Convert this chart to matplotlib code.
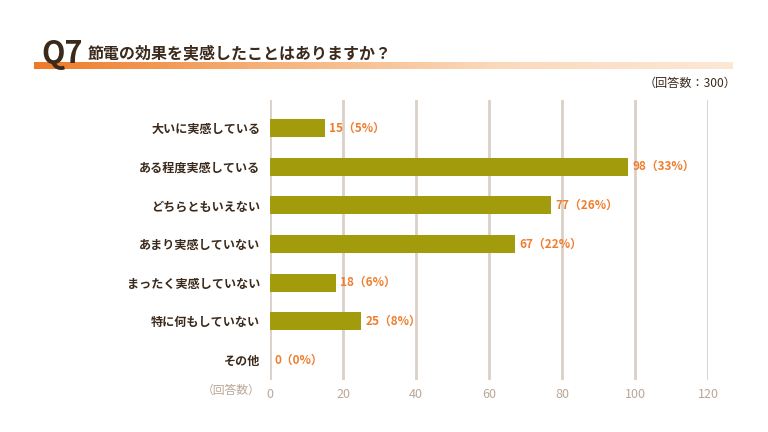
import matplotlib.pyplot as plt
import numpy as np
from matplotlib.colors import LinearSegmentedColormap

plt.rcParams['font.family'] = ['Noto Sans CJK JP', 'DejaVu Sans']

categories = ["大いに実感している", "ある程度実感している", "どちらともいえない",
              "あまり実感していない", "まったく実感していない", "特に何もしていない", "その他"]
counts = [15, 98, 77, 67, 18, 25, 0]
percents = [5, 33, 26, 22, 6, 8, 0]
xticks = [0, 20, 40, 60, 80, 100, 120]

bar_c = "#a29c0c"
val_c = "#ef7f2e"
dark = "#3b2a1c"
tick_c = "#b9a797"
grid_c = "#d9d0c7"

fig = plt.figure(figsize=(7.68, 4.32), dpi=100)

# header gradient band
band = fig.add_axes([34/768, 1-69/432, (733-34)/768, 7/432])
cmap = LinearSegmentedColormap.from_list("g", ["#ee7a28", "#f6b27a", "#fbd9bb", "#fde8d6"])
band.imshow(np.linspace(0, 1, 256).reshape(1, -1), aspect="auto", cmap=cmap)
band.axis("off")

fig.text(41/768, 1-63/432, "Q7", fontsize=22, color=dark, fontweight="bold",
         ha="left", va="baseline", zorder=5)
fig.text(88/768, 1-58/432, "節電の効果を実感したことはありますか？", fontsize=11.5,
         color=dark, fontweight="bold", ha="left", va="baseline")
fig.text(736/768, 1-83/432, "（回答数：300）", fontsize=8.7, color=dark,
         ha="right", va="center")

ax = fig.add_axes([270/768, 1-380/432, (708-270)/768, 280/432])
y = np.arange(len(categories))
ax.barh(y, counts, height=0.47, color=bar_c, zorder=3)
ax.set_xlim(0, 120)
ax.set_ylim(6.52, -0.724)
ax.set_xticks(xticks)
ax.set_xticklabels([str(t) for t in xticks])
ax.set_yticks(y)
ax.set_yticklabels(categories)
for lab in ax.get_yticklabels():
    lab.set_color(dark)
    lab.set_fontweight("bold")
    lab.set_fontsize(8.7)
ax.tick_params(axis="x", length=0, colors=tick_c, labelsize=9, pad=6)
ax.tick_params(axis="y", length=0, pad=7)
for t in xticks:
    ax.axvline(t, color=grid_c, lw=2, zorder=1)
for s in ax.spines.values():
    s.set_visible(False)

for yi, c, p in zip(y, counts, percents):
    ax.text(c + 1.2, yi, f"{c}（{p}%）", color=val_c, fontsize=8.5,
            fontweight="bold", va="center", ha="left", zorder=4)

fig.text(260/768, 1-390/432, "（回答数）", fontsize=8.5, color=tick_c,
         ha="right", va="center")

fig.savefig("out.png", dpi=100)
